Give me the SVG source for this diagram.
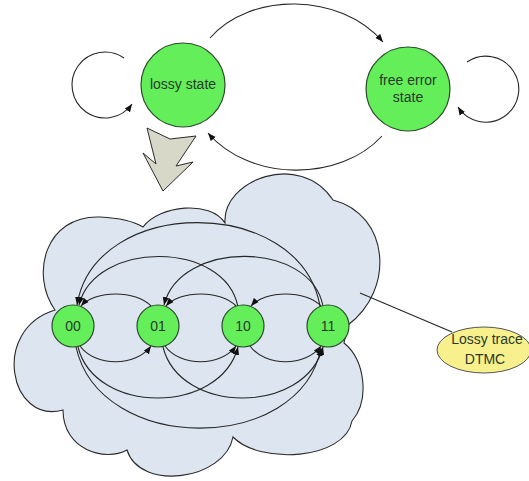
<svg xmlns="http://www.w3.org/2000/svg" width="529" height="481" viewBox="0 0 529 481">
<style>
.edge{fill:none;stroke:#262626;stroke-width:1.1}
.node{fill:#63ee5a;stroke:#2c4a2c;stroke-width:1.2}
.lbl{font-family:"Liberation Sans",Arial,sans-serif;font-size:14px;fill:#2a3a2a;text-anchor:middle}
.big{font-family:"Liberation Sans",Arial,sans-serif;font-size:14px;fill:#2a3a2a;text-anchor:middle}
</style>
<defs>
<marker id="ah" markerUnits="userSpaceOnUse" markerWidth="8" markerHeight="7" viewBox="0 0 10 8" refX="10" refY="4" orient="auto">
<path d="M0,0 L10,4 L0,8 z" fill="#111"/>
</marker>
</defs>
<rect width="529" height="481" fill="#ffffff"/>
<g id="cloud">
<path d="M 55 310 C 30 275, 45 215, 100 217 C 120 218, 135 222, 143 227 C 160 205, 210 200, 225 223 C 222 180, 300 150, 333 200 C 390 215, 395 290, 348 325 L 344 343 C 365 360, 370 400, 352 421 C 345 460, 260 465, 233 437 C 225 480, 140 492, 127 450 C 105 462, 63 450, 63 410 C 10 425, -10 330, 55 310 Z" fill="#dde5f0" stroke="#2a2a2a" stroke-width="1.1"/>
</g>
<g id="bolt">
<polygon points="147,128 170,139 196,136 176,166 193,162 163,191 143,153 156,164" fill="#d8d8c8" stroke="#2a2a2a" stroke-width="1"/>
</g>
<g id="connectors">
<path class="edge" d="M 124 58 A 33 33 0 1 0 132 104" marker-end="url(#ah)"/>
<path class="edge" d="M 467 62 A 33 33 0 1 1 458 107" marker-end="url(#ah)"/>
<path class="edge" d="M 210 38 C 250 -8, 340 -8, 383 42" marker-end="url(#ah)"/>
<path class="edge" d="M 382 136 C 340 182, 250 182, 208 133" marker-end="url(#ah)"/>
<line class="edge" x1="360" y1="293" x2="452" y2="332"/>
<path class="edge" d="M 151 306 C 136 290, 95 290, 81 306" marker-end="url(#ah)"/>
<path class="edge" d="M 236 306 C 221 290, 180 290, 166 306" marker-end="url(#ah)"/>
<path class="edge" d="M 321 306 C 306 290, 265 290, 251 306" marker-end="url(#ah)"/>
<path class="edge" d="M 238 307 C 225 240, 95 240, 79 305" marker-end="url(#ah)"/>
<path class="edge" d="M 323 306 C 310 240, 180 240, 164 305" marker-end="url(#ah)"/>
<path class="edge" d="M 320 306 C 300 195, 95 195, 77 305" marker-end="url(#ah)"/>
<path class="edge" d="M 80 346 C 95 367, 136 367, 151 346" marker-end="url(#ah)"/>
<path class="edge" d="M 165 346 C 180 367, 221 367, 236 346" marker-end="url(#ah)"/>
<path class="edge" d="M 250 346 C 265 367, 306 367, 321 346" marker-end="url(#ah)"/>
<path class="edge" d="M 78 347 C 95 415, 220 415, 238 347" marker-end="url(#ah)"/>
<path class="edge" d="M 163 347 C 180 415, 305 415, 323 347" marker-end="url(#ah)"/>
<path class="edge" d="M 76 347 C 100 455, 300 455, 321 348" marker-end="url(#ah)"/>
</g>
<g id="lossy">
<circle class="node" cx="183" cy="85" r="42"/>
<text class="big" x="183" y="89">lossy state</text>
</g>
<g id="free">
<circle class="node" cx="408" cy="89" r="42"/>
<text class="big" x="408" y="85">free error</text>
<text class="big" x="408" y="102">state</text>
</g>
<g id="s00"><circle class="node" cx="73" cy="326" r="21"/><text class="lbl" x="73" y="331">00</text></g>
<g id="s01"><circle class="node" cx="158" cy="326" r="21"/><text class="lbl" x="158" y="331">01</text></g>
<g id="s10"><circle class="node" cx="243" cy="326" r="21"/><text class="lbl" x="243" y="331">10</text></g>
<g id="s11"><circle class="node" cx="328" cy="326" r="21"/><text class="lbl" x="328" y="331">11</text></g>
<g id="note">
<ellipse cx="484" cy="350" rx="47" ry="23" fill="#f8f08c" stroke="#555" stroke-width="1"/>
<text class="big" x="487" y="344">Lossy trace</text>
<text class="big" x="485" y="364">DTMC</text>
</g>
</svg>
